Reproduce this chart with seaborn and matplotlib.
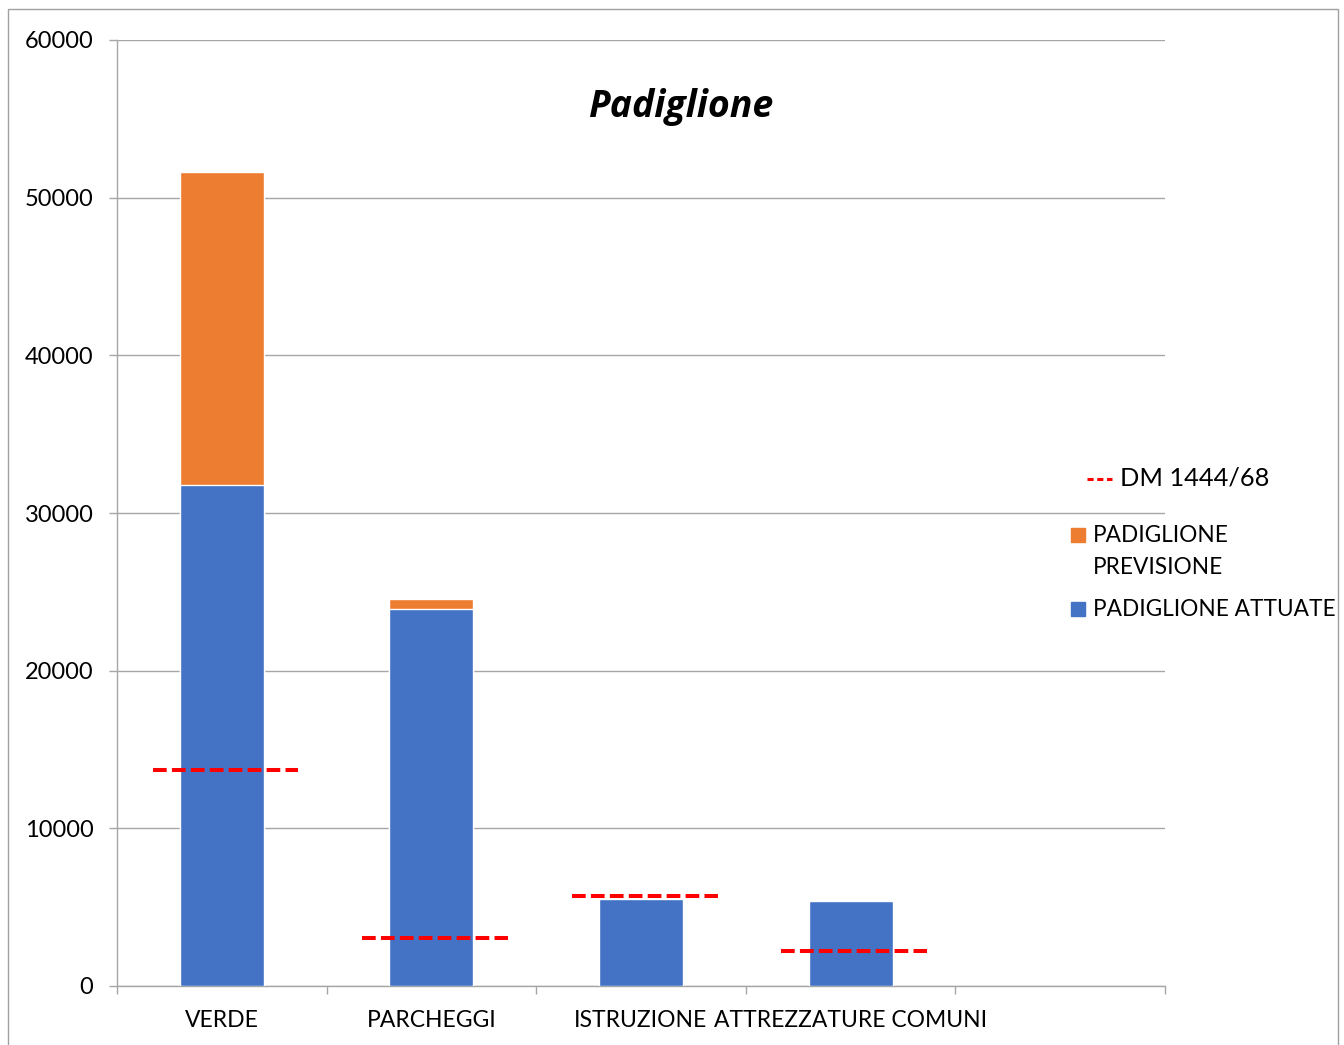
import matplotlib
matplotlib.use("Agg")
import matplotlib.pyplot as plt
from matplotlib.patches import Rectangle
from matplotlib.lines import Line2D
import numpy as np
import pandas as pd
import seaborn as sns

# Superfici per categoria di standard (mq)
categorie = ["VERDE", "PARCHEGGI", "ISTRUZIONE", "ATTREZZATURE COMUNI"]
attuate = [31800, 23900, 5500, 5400]
previsione = [19800, 650, 0, 0]
dm_1444 = [13700, 3050, 5700, 2200]
y_ticks = [0, 10000, 20000, 30000, 40000, 50000, 60000]

BLU = "#4472C4"
ARANCIO = "#ED7D31"
ROSSO = "#FF0000"
GRIGIO = "#A6A6A6"

sns.set_theme(style="white")
plt.rcParams["font.family"] = ["Lato", "DejaVu Sans"]

W, H = 1344, 1045
fig = plt.figure(figsize=(W / 100, H / 100), dpi=100)
fig.patch.set_facecolor("white")


def fx(x):
    return x / W


def fy(y):
    return 1 - y / H


ax = fig.add_axes([fx(117), fy(986), (1165 - 117) / W, (986 - 40) / H])

df = pd.DataFrame({
    "categoria": categorie,
    "attuate": attuate,
    "totale": np.array(attuate) + np.array(previsione),
})

# Barre impilate: il totale in arancio, la parte attuata in blu sopra
sns.barplot(data=df, x="categoria", y="totale", color=ARANCIO, width=0.4,
            errorbar=None, saturation=1, ax=ax, zorder=2)
sns.barplot(data=df, x="categoria", y="attuate", color=BLU, width=0.4,
            errorbar=None, saturation=1, ax=ax, zorder=3)

# Soglie DM 1444/68 come segmenti tratteggiati per categoria
pos = np.arange(len(categorie))
ax.hlines(dm_1444, pos - 0.33, pos + 0.365, colors=ROSSO, linewidth=2.9,
          linestyles=(0, (3.4, 1.3)), zorder=4)

ax.set_xlim(-0.5, 4.5)
ax.set_ylim(0, 60000)
ax.set_yticks(y_ticks)
ax.set_yticklabels([str(v) for v in y_ticks])
ax.set_xticks(pos)
ax.set_xticklabels(categorie)
ax.set_xticks(np.arange(-0.5, 5.0, 1.0), minor=True)
ax.set_xlabel("")
ax.set_ylabel("")

ax.grid(axis="y", color=GRIGIO, linewidth=1.0)
ax.set_axisbelow(True)
for side in ("top", "right"):
    ax.spines[side].set_visible(False)
for side in ("left", "bottom"):
    ax.spines[side].set_color(GRIGIO)
    ax.spines[side].set_linewidth(1.0)

ax.tick_params(axis="y", which="major", length=6, width=1.0, color=GRIGIO,
               labelsize=17, labelcolor="black", pad=11, left=True)
ax.tick_params(axis="x", which="major", length=0, labelsize=16.5,
               labelcolor="black", pad=17)
ax.tick_params(axis="x", which="minor", length=6, width=1.0, color=GRIGIO,
               bottom=True)

# Titolo
fig.text(fx(681), fy(117.5), "Padiglione", ha="center", va="baseline",
         fontsize=27, fontweight="bold", fontstyle="italic", color="black",
         family=["Open Sans", "DejaVu Sans"])

# Legenda
fig.add_artist(Line2D([fx(1087), fx(1112)], [fy(479), fy(479)], color=ROSSO,
                      linewidth=2.2, linestyle=(0, (2.0, 1.2)),
                      transform=fig.transFigure))
fig.text(fx(1120), fy(478), "DM 1444/68", ha="left", va="center",
         fontsize=18.3, color="black")

fig.add_artist(Rectangle((fx(1071), fy(542)), 14 / W, 14 / H, color=ARANCIO,
                         transform=fig.transFigure))
fig.text(fx(1093), fy(535), "PADIGLIONE", ha="left", va="center",
         fontsize=16.3, color="black")
fig.text(fx(1093), fy(567), "PREVISIONE", ha="left", va="center",
         fontsize=16.3, color="black")

fig.add_artist(Rectangle((fx(1071), fy(616)), 14 / W, 14 / H, color=BLU,
                         transform=fig.transFigure))
fig.text(fx(1093), fy(609), "PADIGLIONE ATTUATE", ha="left", va="center",
         fontsize=16.3, color="black")

# Cornice dell'area del grafico
fig.add_artist(Rectangle((fx(7.5), -0.02), (1338 - 7.5) / W, fy(9) + 0.02,
                         fill=False, edgecolor="#A0A0A0", linewidth=1.0,
                         transform=fig.transFigure))

fig.savefig("out.png", dpi=100, facecolor="white")
